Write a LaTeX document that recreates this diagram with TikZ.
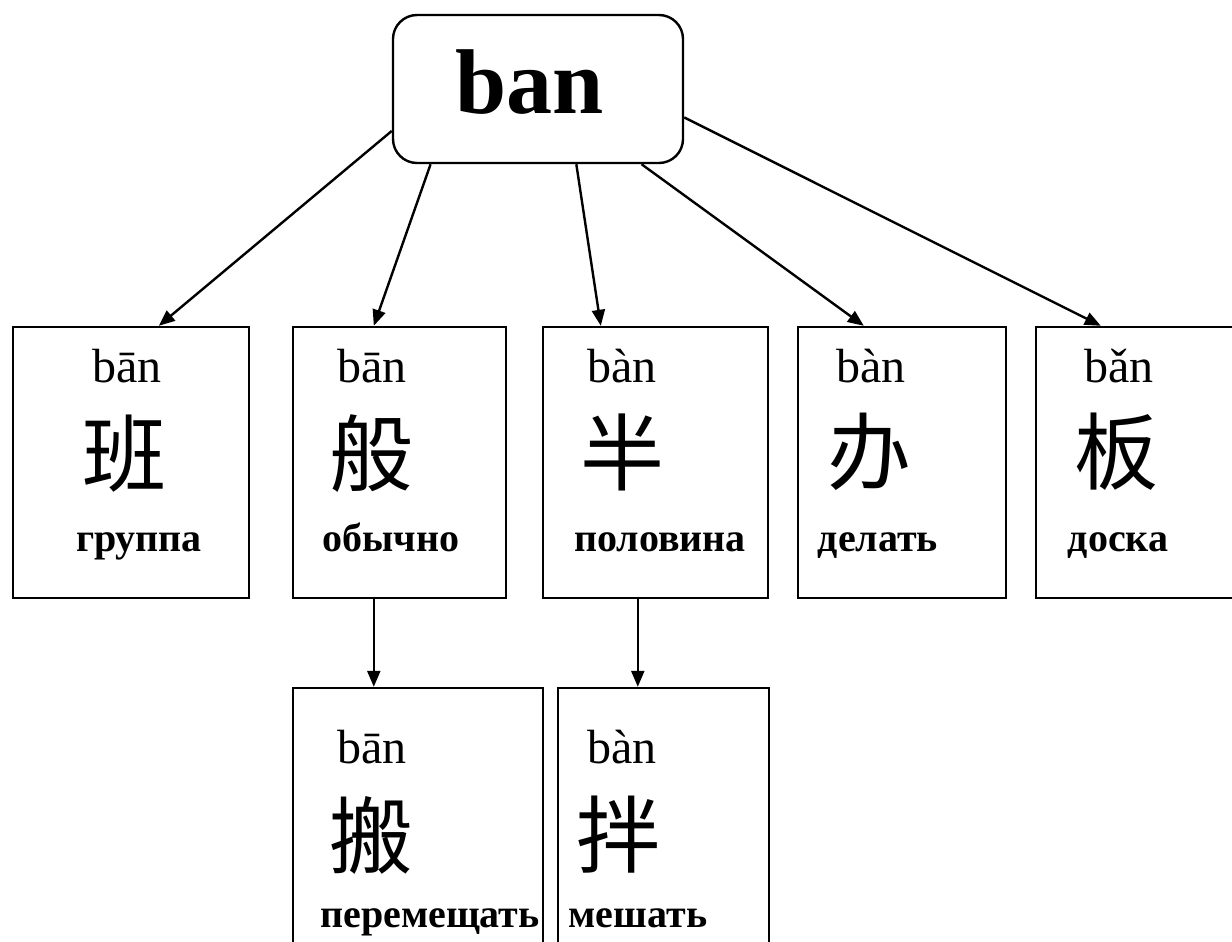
\documentclass[tikz,border=0pt]{standalone}
\usepackage{fontspec}
\setmainfont{Liberation Serif}
\newfontfamily\cjk{Noto Sans CJK SC}
\usetikzlibrary{arrows.meta}
\begin{document}
\begin{tikzpicture}[x=0.5pt,y=-0.5pt,
  box/.style={draw,line width=1.2pt,inner sep=0pt},
  pin/.style={anchor=base,font=\fontsize{24}{24}\selectfont,inner sep=0pt},
  han/.style={font=\cjk\fontsize{42}{42}\selectfont,inner sep=0pt},
  rus/.style={anchor=base,font=\bfseries\fontsize{20}{20}\selectfont,inner sep=0pt},
  arr/.style={line width=1.2pt,-{Triangle[length=8pt,width=6.5pt]}}]
\useasboundingbox (0,0) rectangle (1232,942);
\begin{scope}
\clip (0,0) rectangle (1232,942);
% top node
\node[box,rounded corners=12pt,minimum width=145pt,minimum height=74pt] (ban) at (538,89) {};
\node[anchor=base,inner sep=0pt,font=\bfseries\fontsize{46}{46}\selectfont] (bantext) at (530,113) {ban};
% row 1 boxes
\node[box,minimum width=118pt,minimum height=135.5pt] (b1) at (131,462.5) {};
\node[box,minimum width=106.5pt,minimum height=135.5pt] (b2) at (399.5,462.5) {};
\node[box,minimum width=112.5pt,minimum height=135.5pt] (b3) at (655.5,462.5) {};
\node[box,minimum width=104pt,minimum height=135.5pt] (b4) at (902,462.5) {};
\node[box,minimum width=112pt,minimum height=135.5pt] (b5) at (1148,462.5) {};
% row 2 boxes
\node[box,minimum width=125pt,minimum height=136pt] (b6) at (418,824) {};
\node[box,minimum width=105.5pt,minimum height=136pt] (b7) at (663.5,824) {};
% texts row 1
\node[pin] (p1) at (127,382) {bān};
\node[han] (c1) at (124,454) {班};
\node[rus] (r1) at (139,551) {группа};
\node[pin] (p2) at (372,382) {bān};
\node[han] (c2) at (371,454) {般};
\node[rus] (r2) at (391,551) {обычно};
\node[pin] (p3) at (622,382) {bàn};
\node[han] (c3) at (622,452) {半};
\node[rus] (r3) at (660,551) {половина};
\node[pin] (p4) at (871,382) {bàn};
\node[han] (c4) at (869,452) {办};
\node[rus] (r4) at (878,551) {делать};
\node[pin] (p5) at (1119,382) {bǎn};
\node[han] (c5) at (1116,452) {板};
\node[rus] (r5) at (1118,551) {доска};
% texts row 2
\node[pin] (p6) at (372,763) {bān};
\node[han] (c6) at (371,835) {搬};
\node[rus] (r6) at (430,927) {перемещать};
\node[pin] (p7) at (622,763) {bàn};
\node[han] (c7) at (618,835) {拌};
\node[rus] (r7) at (638,927) {мешать};
% arrows
\draw[arr] (ban.196.9) -- ([xshift=73.5pt]b1.north west);
\draw[arr] (ban.215.2) -- ([xshift=41pt]b2.north west);
\draw[arr] (ban.297.8) -- ([xshift=29.5pt]b3.north west);
\draw[arr] (ban.324.6) -- ([xshift=33.5pt]b4.north west);
\draw[arr] (ban.349.8) -- ([xshift=33pt]b5.north west);
\draw[arr] ([xshift=41pt]b2.south west) -- ([xshift=41pt]b6.north west);
\draw[arr] ([xshift=48pt]b3.south west) -- ([xshift=40.5pt]b7.north west);
\end{scope}
\end{tikzpicture}
\end{document}
